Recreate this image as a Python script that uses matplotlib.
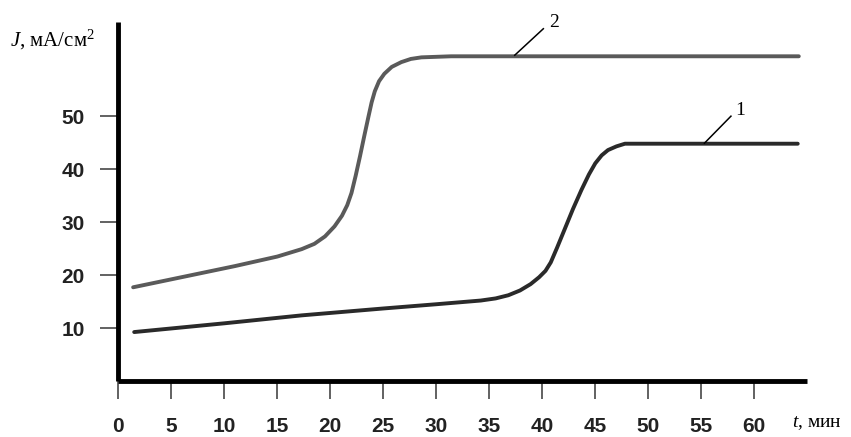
import matplotlib
matplotlib.use("Agg")
from matplotlib import pyplot as plt

# curve 2 (upper, grey)
t2 = [1.4, 5, 11, 15, 17.3, 18.5, 19.5, 20.4, 21.1, 21.6, 22.0, 22.4, 22.8, 23.2, 23.6, 23.9, 24.2, 24.6, 25.1, 25.8, 26.7, 27.6, 28.6, 31.4, 40, 50, 64.2]
j2 = [17.7, 19.2, 21.7, 23.5, 24.9, 25.9, 27.3, 29.2, 31.2, 33.2, 35.5, 38.8, 42.4, 46.2, 49.9, 52.6, 54.7, 56.6, 58.0, 59.3, 60.2, 60.8, 61.1, 61.3, 61.3, 61.3, 61.3]

# curve 1 (lower, dark)
t1 = [1.5, 10, 17.3, 25, 30, 34.2, 35.6, 36.8, 37.9, 38.9, 39.7, 40.3, 40.8, 41.4, 42.1, 42.9, 43.7, 44.4, 45.0, 45.6, 46.2, 47.0, 47.8, 50.3, 64.1]
j1 = [9.25, 10.9, 12.4, 13.7, 14.5, 15.2, 15.6, 16.2, 17.1, 18.3, 19.6, 20.8, 22.4, 25.2, 28.6, 32.5, 36.1, 39.0, 41.1, 42.6, 43.6, 44.3, 44.8, 44.8, 44.8]

xticks = [0, 5, 10, 15, 20, 25, 30, 35, 40, 45, 50, 55, 60]
yticks = [10, 20, 30, 40, 50]

plt.rcParams['mathtext.fontset'] = 'custom'
plt.rcParams['mathtext.rm'] = 'Liberation Serif'
plt.rcParams['mathtext.it'] = 'Liberation Serif:italic'

fig = plt.figure(figsize=(8.51, 4.37), dpi=100)
ax = fig.add_axes([0.139, 0.128, 0.809, 0.822])

ax.plot(t2, j2, color="#5a5a5a", lw=2.8, solid_capstyle="round")
ax.plot(t1, j1, color="#2a2a2a", lw=2.8, solid_capstyle="round")

# leader lines with curve numbers
ax.plot([37.4, 40.1], [61.5, 66.5], color="black", lw=1.1)
ax.text(40.6, 66.0, "2", family="Liberation Serif", fontsize=14, va="bottom", ha="left")
ax.plot([55.3, 57.8], [44.9, 50.0], color="black", lw=1.1)
ax.text(58.2, 49.5, "1", family="Liberation Serif", fontsize=14, va="bottom", ha="left")

ax.set_xlim(0, 64.95)
ax.set_ylim(0, 67.8)
for side in ["top", "right"]:
    ax.spines[side].set_visible(False)
for side in ["left", "bottom"]:
    ax.spines[side].set_linewidth(3.5)
    ax.spines[side].set_color("black")
    ax.spines[side].set_capstyle("butt")

ax.set_xticks(xticks)
ax.set_yticks(yticks)
ax.tick_params(axis="both", direction="out", length=13, width=1.3, color="#555555",
               labelsize=15)
ax.tick_params(axis="x", pad=13)
ax.tick_params(axis="y", pad=11)
for lab in ax.get_xticklabels() + ax.get_yticklabels():
    lab.set_family("Liberation Sans")
    lab.set_fontweight("bold")
    lab.set_color("#222222")

fig.text(0.012, 0.893, r"$J$, мА/см$^2$", family="Liberation Serif", fontsize=15, va="baseline")
fig.text(0.931, 0.022, r"$t$, мин", family="Liberation Serif", fontsize=14, va="baseline")

fig.savefig("out.png", dpi=100)
